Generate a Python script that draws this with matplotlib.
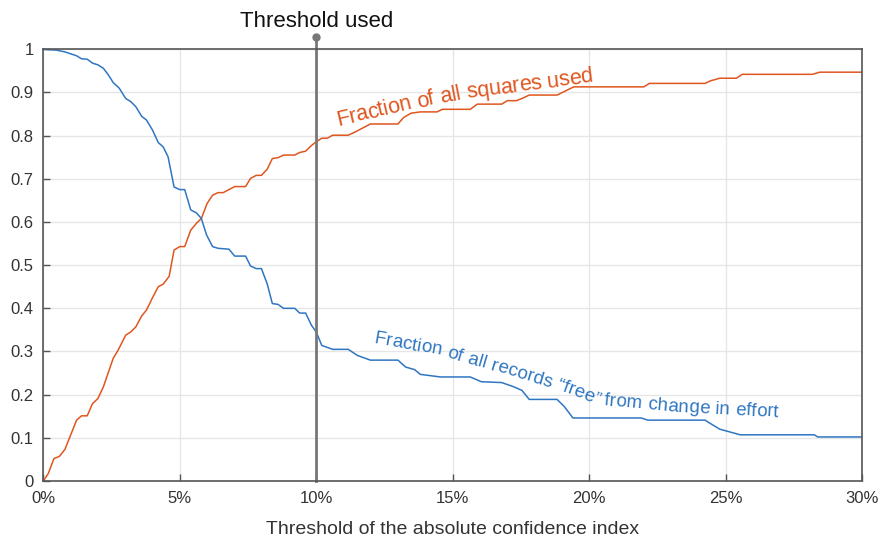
import matplotlib

matplotlib.use("Agg")
import matplotlib.pyplot as plt
import numpy as np
from matplotlib.font_manager import FontProperties
from matplotlib.transforms import IdentityTransform

plt.rcParams["font.family"] = ["Liberation Sans", "DejaVu Sans"]

# threshold of the absolute confidence index (%) -> fraction of all squares used
squares_x = [0, 0.18, 0.39, 0.59, 0.79, 1.22, 1.40, 1.61, 1.80, 2.00, 2.20, 2.56, 2.74,
             3.02, 3.20, 3.39, 3.60, 3.78, 4.02, 4.21, 4.39, 4.61, 4.79, 5.00, 5.18,
             5.40, 5.61, 5.79, 6.00, 6.20, 6.40, 6.59, 6.80, 7.01, 7.41, 7.59, 7.80,
             7.99, 8.20, 8.39, 8.60, 8.80, 9.21, 9.39, 9.61, 9.82, 10.0, 10.2, 10.4,
             10.6, 11.17, 11.44, 11.98, 12.99, 13.2, 13.47, 13.81, 14.42, 14.62, 15.64,
             15.9, 16.79, 17.0, 17.33, 17.53, 17.8, 18.82, 19.43, 22.0, 22.2, 24.24,
             24.44, 24.78, 25.39, 25.6, 28.17, 28.44, 30.0]
squares_y = [0, 0.017, 0.052, 0.057, 0.073, 0.141, 0.151, 0.151, 0.179, 0.191, 0.218,
             0.284, 0.303, 0.338, 0.345, 0.357, 0.382, 0.396, 0.427, 0.450, 0.456,
             0.474, 0.535, 0.543, 0.543, 0.581, 0.597, 0.608, 0.643, 0.662, 0.668,
             0.668, 0.675, 0.682, 0.682, 0.701, 0.708, 0.708, 0.722, 0.747, 0.749,
             0.755, 0.755, 0.761, 0.764, 0.777, 0.786, 0.794, 0.794, 0.801, 0.801,
             0.809, 0.827, 0.827, 0.842, 0.852, 0.855, 0.855, 0.861, 0.861, 0.873,
             0.873, 0.881, 0.881, 0.886, 0.894, 0.894, 0.913, 0.913, 0.921, 0.921,
             0.927, 0.933, 0.933, 0.942, 0.942, 0.947, 0.947]

# fraction of all records "free" from change in effort
free_x = [0, 0.49, 0.79, 1.22, 1.40, 1.61, 1.80, 2.00, 2.20, 2.38, 2.56, 2.78, 3.02,
          3.20, 3.39, 3.60, 3.78, 4.00, 4.21, 4.39, 4.57, 4.79, 5.00, 5.18, 5.40,
          5.61, 5.79, 5.98, 6.20, 6.40, 6.80, 7.01, 7.41, 7.59, 7.80, 7.99, 8.20,
          8.39, 8.60, 8.80, 9.21, 9.39, 9.61, 9.82, 10.0, 10.2, 10.6, 11.17, 11.5,
          11.98, 12.99, 13.27, 13.6, 13.81, 14.55, 15.64, 16.04, 16.79, 17.2, 17.53,
          17.8, 18.82, 19.09, 19.4, 21.9, 22.14, 24.24, 24.44, 24.78, 25.53, 28.24,
          28.37, 30.0]
free_y = [1.0, 0.998, 0.994, 0.985, 0.978, 0.977, 0.968, 0.964, 0.956, 0.941, 0.923,
          0.910, 0.886, 0.879, 0.867, 0.845, 0.836, 0.813, 0.784, 0.774, 0.751, 0.681,
          0.675, 0.675, 0.628, 0.621, 0.608, 0.570, 0.543, 0.539, 0.537, 0.521, 0.521,
          0.498, 0.492, 0.492, 0.457, 0.411, 0.409, 0.400, 0.400, 0.389, 0.389, 0.361,
          0.345, 0.314, 0.305, 0.305, 0.291, 0.280, 0.280, 0.264, 0.258, 0.247, 0.241,
          0.241, 0.230, 0.228, 0.219, 0.210, 0.189, 0.189, 0.172, 0.146, 0.146, 0.141,
          0.141, 0.133, 0.120, 0.107, 0.107, 0.102, 0.102]

threshold_used = 10
x_ticks = [0, 5, 10, 15, 20, 25, 30]
y_ticks = [0, 0.1, 0.2, 0.3, 0.4, 0.5, 0.6, 0.7, 0.8, 0.9, 1]

label_squares = "Fraction of all squares used"
label_free = "Fraction of all records \u201cfree\u201d from change in effort"

ORANGE = "#DF561F"
BLUE = "#2F76C2"
W, H = 883, 540


def text_along(fig, s, pts, size, color):
    """Letters one by one along a polyline given in image pixels (y down)."""
    pts = np.asarray(pts, float)
    pts[:, 1] = H - pts[:, 1]
    seg = np.diff(pts, axis=0)
    cum = np.concatenate([[0], np.cumsum(np.hypot(seg[:, 0], seg[:, 1]))])
    r = fig.canvas.get_renderer()
    prop = FontProperties(family="Liberation Sans", size=size)
    total = r.get_text_width_height_descent(s, prop, ismath=False)[0]
    stretch = cum[-1] / total  # spread the letters so the text fills the path
    bar = r.get_text_width_height_descent("|", prop, ismath=False)[0]
    for i, ch in enumerate(s):
        if ch == " ":
            continue
        d0 = r.get_text_width_height_descent(s[:i] + "|", prop, ismath=False)[0] - bar if i else 0
        w = r.get_text_width_height_descent(ch, prop, ismath=False)[0]
        dm = (d0 + w / 2) * stretch
        k = int(np.clip(np.searchsorted(cum, dm) - 1, 0, len(seg) - 1))
        ang = np.degrees(np.arctan2(seg[k, 1], seg[k, 0]))
        x = np.interp(dm, cum, pts[:, 0])
        y = np.interp(dm, cum, pts[:, 1])
        fig.text(x, y, ch, transform=IdentityTransform(), fontproperties=prop,
                 color=color, rotation=ang, rotation_mode="anchor",
                 ha="center", va="baseline")


fig = plt.figure(figsize=(W / 100, H / 100), dpi=100)
ax = fig.add_axes([43.3 / W, 1 - 481 / H, (862.3 - 43.3) / W, (481 - 49.3) / H])
ax.set_axisbelow(True)

ax.plot(squares_x, squares_y, color=ORANGE, lw=1.1)
ax.plot(free_x, free_y, color=BLUE, lw=1.1)

# threshold marker
ax.plot([threshold_used, threshold_used], [0, 1.028], color="#777777", lw=2, clip_on=False)
ax.plot([threshold_used], [1.028], "o", color="#777777", ms=5, clip_on=False)
ax.text(threshold_used, 1.052, "Threshold used", ha="center", va="baseline",
        fontsize=16, color="#111111")

ax.set_xlim(0, 30)
ax.set_ylim(0, 1)
ax.set_xticks(x_ticks, [f"{t}%" for t in x_ticks])
ax.set_yticks(y_ticks, [f"{v:g}" for v in y_ticks])
ax.grid(color="#e6e6e6", lw=1)
ax.tick_params(direction="in", length=5, width=1, colors="#555555",
               labelcolor="#333333", labelsize=12, pad=7)
for sp in ax.spines.values():
    sp.set_color("#555555")
    sp.set_linewidth(1.2)
ax.set_xlabel("Threshold of the absolute confidence index", fontsize=14,
              color="#333333", labelpad=11)

text_along(fig, label_squares, [(338, 126), (410, 109), (467, 98), (593, 82)], 15.5, ORANGE)
text_along(fig, label_free, [(373, 343), (440, 355), (552, 388), (600, 405),
                             (680, 412), (778, 417)], 13.5, BLUE)

fig.savefig("out.png", dpi=100)
